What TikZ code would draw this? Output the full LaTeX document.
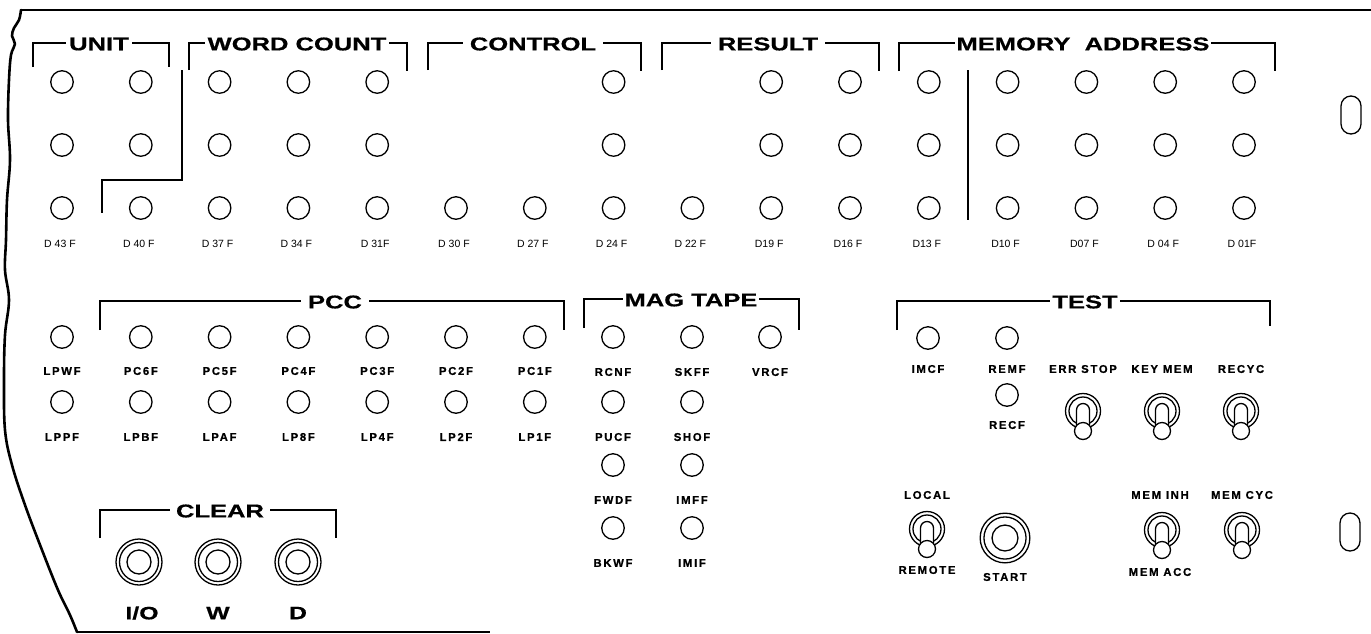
\documentclass[tikz,border=0pt]{standalone}
\usepackage{fontspec}
\setmainfont{Liberation Sans}
\newfontfamily\headfont{Liberation Sans}[FakeStretch=1.38,FakeBold=0.6]
\newfontfamily\labfont{Liberation Sans}[LetterSpace=15,FakeBold=0.8]
\newfontfamily\dfont{Liberation Sans}
\tikzset{
  lamp/.style={circle,draw,line width=1.3pt,minimum size=22.5pt,inner sep=0pt},
  dlab/.style={font=\dfont\fontsize{10.5}{11}\selectfont,inner sep=0pt},
  blab/.style={font=\labfont\bfseries\fontsize{11.3}{12}\selectfont,inner sep=0pt},
  head/.style={font=\headfont\bfseries\fontsize{18.5}{20}\selectfont,fill=white,inner xsep=3pt,inner ysep=1pt},
  bighead/.style={font=\headfont\bfseries\fontsize{18}{20}\selectfont,inner sep=0pt},
  brk/.style={line width=2.6pt,line join=miter},
  edgeline/.style={line width=2.6pt,line join=round,line cap=round},
  ring/.style={line width=1.3pt},
  toggle/.pic={
    \draw[ring] (0,0) circle (17.5);
    \draw[ring] (0,0) circle (14);
    \draw[ring,fill=white] (-6.5,20) -- (-6.5,-1) arc[start angle=180,end angle=360,radius=6.5] -- (6.5,20);
    \draw[ring,fill=white] (0,20) circle (8.5);
  },
  button/.pic={
    \draw[ring] (0,0) circle (23);
    \draw[ring] (0,0) circle (19.5);
    \draw[ring] (0,0) circle (12);
  },
  slot/.style={draw,line width=1.3pt,rounded corners=10pt,minimum width=20pt,minimum height=38pt,inner sep=0pt}
}
\begin{document}
\begin{tikzpicture}[x=1pt,y=-1pt]
\useasboundingbox (0,0) rectangle (1371,633);

% panel outline
\coordinate (tl) at (21,10);
\coordinate (tr) at (1371,10);
\coordinate (bl) at (77,632);
\coordinate (br) at (490,632);
\draw[edgeline] (tl) -- (tr);
\draw[edgeline] plot[smooth,tension=0.6] coordinates {(21,10) (19,20) (14,28) (12,36) (15,44) (11,55) (9,80) (8,120) (10,160) (7,200) (6,240) (5,270) (9,300) (5,335) (4,380) (5,430) (12,465) (25,505) (42,550) (58,590) (70,615) (77,632)};
\draw[line width=2.2pt] (bl) -- (br);

% top brackets
\draw[brk] (33,67) -- (33,43) -- (169,43) -- (169,67);
\node[head] (hunit) at (99,44) {UNIT};
\draw[brk] (189,70) -- (189,43) -- (407,43) -- (407,71);
\node[head] (hword) at (297,44) {WORD COUNT};
\draw[brk] (428,70) -- (428,43) -- (641,43) -- (641,71);
\node[head,inner xsep=7pt] (hcontrol) at (533,44) {CONTROL};
\draw[brk] (662,70) -- (662,43) -- (879,43) -- (879,71);
\node[head,inner xsep=7pt] (hresult) at (768,44) {RESULT};
\draw[brk] (899,71) -- (899,43) -- (1275,43) -- (1275,71);
\node[head,inner xsep=1.5pt] (hmem) at (1083,44) {MEMORY\ \ ADDRESS};

% dividers
\draw[edgeline,line cap=butt,line join=miter] (182,70) -- (182,180) -- (102,180) -- (102,213);
\draw[edgeline,line cap=butt] (968,70) -- (968,220);

% top lamps
\foreach \i in {0,1,2,3,4,7,9,10,11,12,13,14,15} {
  \node[lamp] (ra\i) at ({62+78.8*\i},82) {};
  \node[lamp] (rb\i) at ({62+78.8*\i},145) {};
}
\foreach \i/\lab in {0/D 43 F,1/D 40 F,2/D 37 F,3/D 34 F,4/D 31F,5/D 30 F,6/D 27 F,7/D 24 F,8/D 22 F,9/D19 F,10/D16 F,11/D13 F,12/D10 F,13/D07 F,14/D 04 F,15/D 01F} {
  \node[lamp] (rc\i) at ({62+78.8*\i},208) {};
  \node[dlab] (dl\i) at ({60+78.8*\i},244) {\lab};
}

% slots
\node[slot] (slot1) at (1351,115) {};
\node[slot] (slot2) at (1350,532) {};

% PCC
\draw[brk] (100,330) -- (100,301) -- (564,301) -- (564,330);
\node[head,inner xsep=7pt] (hpcc) at (335,302) {PCC};
\foreach \i/\a/\b in {0/LPWF/LPPF,1/PC6F/LPBF,2/PC5F/LPAF,3/PC4F/LP8F,4/PC3F/LP4F,5/PC2F/LP2F,6/PC1F/LP1F} {
  \node[lamp] (pa\i) at ({62+78.8*\i},337) {};
  \node[blab] (pal\i) at ({62+78.8*\i},371) {\a};
  \node[lamp] (pb\i) at ({62+78.8*\i},402) {};
  \node[blab] (pbl\i) at ({62+78.8*\i},437) {\b};
}

% MAG TAPE
\draw[brk] (584,328) -- (584,299) -- (799,299) -- (799,330);
\node[head,inner xsep=2pt] (hmag) at (691,300) {MAG TAPE};
\foreach \x/\y/\lab/\n in {613/337/RCNF/a,692/337/SKFF/b,770/337/VRCF/c,613/402/PUCF/d,692/402/SHOF/e,613/465/FWDF/f,692/465/IMFF/g,613/528/BKWF/h,692/528/IMIF/i} {
  \node[lamp] (m\n) at (\x,\y) {};
  \node[blab] (ml\n) at (\x,{\y+35}) {\lab};
}

% TEST
\draw[brk] (897,330) -- (897,301) -- (1270,301) -- (1270,326);
\node[head,inner xsep=2pt] (htest) at (1085,302) {TEST};
\node[lamp] (imcf) at (928,338) {};
\node[blab] (limcf) at (928,369) {IMCF};
\node[lamp] (remf) at (1007,338) {};
\node[blab] (lremf) at (1007,369) {REMF};
\node[lamp] (recf) at (1007,395) {};
\node[blab] (lrecf) at (1007,425) {RECF};

\node[blab] (lerr) at (1083,369) {ERR STOP};
\node[blab] (lkey) at (1162,369) {KEY MEM};
\node[blab] (lrecyc) at (1241,369) {RECYC};
\pic at (1083,411) {toggle};
\pic at (1162,411) {toggle};
\pic at (1241,411) {toggle};

% bottom right controls
\node[blab] (llocal) at (927,495) {LOCAL};
\pic at (927,529) {toggle};
\node[blab] (lremote) at (927,570) {REMOTE};
\pic[scale=1.08] at (1005,538) {button};
\node[blab] (lstart) at (1005,577) {START};
\node[blab] (lmeminh) at (1160,495) {MEM INH};
\pic at (1162,530) {toggle};
\node[blab] (lmemacc) at (1160,572) {MEM ACC};
\node[blab] (lmemcyc) at (1242,495) {MEM CYC};
\pic at (1242,530) {toggle};

% CLEAR
\draw[brk] (100,538) -- (100,510) -- (336,510) -- (336,538);
\node[head,inner xsep=6pt] (hclear) at (220,511) {CLEAR};
\pic at (139,562) {button};
\pic at (218,562) {button};
\pic at (298,562) {button};
\node[bighead] (lio) at (142,613) {I/O};
\node[bighead] (lw) at (218,613) {W};
\node[bighead] (ld) at (298,613) {D};
\end{tikzpicture}
\end{document}
